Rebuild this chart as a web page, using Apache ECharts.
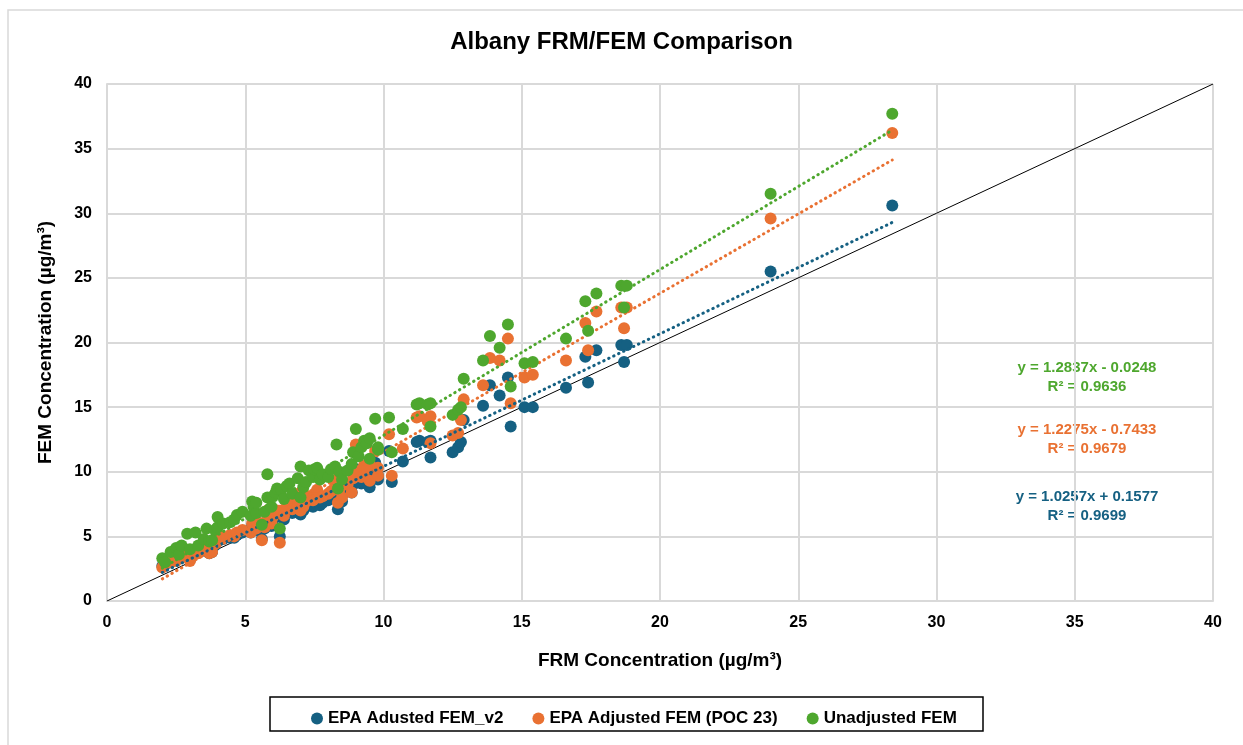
<!DOCTYPE html>
<html>
<head>
<meta charset="utf-8">
<script src="https://cdn.jsdelivr.net/npm/echarts@6/dist/echarts.min.js"></script>
<style>
html,body{margin:0;padding:0;background:#fff;}
#chart{width:1243px;height:745px;}
</style>
</head>
<body>
<div id="chart"></div>
<script>
// FRM concentration (x) shared by all three series
const frm = [2.0,2.1,2.3,2.5,2.6,2.7,2.9,3.0,3.2,3.3,3.5,3.6,3.7,3.8,3.9,4.0,4.0,4.2,4.45,4.6,4.7,4.9,
  5.2,5.25,5.3,5.4,5.4,5.6,5.7,5.8,5.8,5.95,6.0,6.1,6.15,6.25,6.3,6.4,6.5,6.6,6.7,6.9,7.0,7.0,7.1,7.2,
  7.3,7.45,7.5,7.6,7.7,7.8,8.0,8.1,8.25,8.3,8.35,8.4,8.5,8.7,8.85,8.9,9.0,9.1,9.2,9.3,9.4,9.5,9.5,9.7,
  9.8,9.8,10.2,10.3,10.7,11.2,11.3,11.6,11.7,11.7,12.5,12.7,12.8,12.9,13.6,13.85,14.2,14.5,14.6,15.1,
  15.4,16.6,17.3,17.4,17.7,18.6,18.7,18.8,24.0,28.4];
const epaV2 = [2.7,2.8,3.0,3.2,3.3,3.5,3.6,3.2,4.0,3.8,4.1,4.4,3.7,3.8,4.3,4.6,5.0,4.8,4.9,4.9,5.1,5.3,
  5.3,5.8,5.6,5.5,6.0,4.8,5.6,6.6,6.2,5.8,6.2,6.5,6.8,5.0,6.6,6.3,6.9,7.1,6.8,7.3,7.8,6.7,7.0,7.3,
  7.6,7.3,7.9,8.0,7.4,7.6,7.8,8.0,8.3,8.9,7.1,8.1,7.7,8.5,8.4,9.0,10.2,9.5,9.1,9.9,9.6,10.1,8.8,10.7,
  9.4,9.7,11.6,9.2,10.8,12.3,12.4,12.3,11.1,12.4,11.5,11.9,12.3,14.0,15.1,16.7,15.9,17.3,13.5,15.0,
  15.0,16.5,18.9,16.9,19.4,19.8,18.5,19.8,25.5,30.6];
const epaPoc23 = [2.6,2.9,3.0,3.1,3.3,3.4,3.5,3.1,4.0,3.7,4.0,4.5,3.7,3.8,4.4,4.8,5.2,4.9,5.1,5.0,5.3,5.5,
  5.3,6.0,5.8,5.6,6.2,4.7,5.7,7.0,6.4,6.0,6.5,6.8,7.0,4.5,7.0,6.6,7.3,7.6,7.1,7.8,8.4,7.0,7.3,7.7,
  8.1,7.8,8.3,8.6,8.0,8.1,8.3,8.5,8.9,9.4,7.6,8.6,8.0,9.0,8.4,9.5,12.1,9.9,9.6,10.5,10.2,10.6,9.3,11.6,
  9.7,10.3,12.9,9.7,11.8,14.2,14.3,13.9,12.2,14.3,12.8,13.0,14.0,15.6,16.7,18.8,18.6,20.3,15.3,17.3,
  17.5,18.6,21.5,19.4,22.4,22.7,21.1,22.7,29.6,36.2];
const unadjusted = [3.3,3.0,3.8,4.1,3.6,4.3,5.2,4.0,5.3,4.3,4.8,5.6,4.6,4.7,5.5,5.7,6.5,6.0,6.1,6.3,6.65,6.9,
  6.6,7.7,7.3,6.8,7.6,5.9,6.9,9.8,8.0,7.3,8.1,8.4,8.7,5.6,8.6,7.9,8.9,9.1,8.3,9.5,10.4,8.0,8.8,9.2,
  10.1,9.6,10.2,10.3,9.4,9.8,9.6,10.2,10.4,12.1,8.7,10.0,9.4,10.1,10.6,11.5,13.3,11.2,11.9,12.4,12.2,12.6,11.0,14.1,
  11.7,11.9,14.2,11.5,13.3,15.2,15.3,15.2,13.5,15.3,14.4,14.8,15.0,17.2,18.6,20.5,19.6,21.4,16.6,18.4,
  18.5,20.3,23.2,20.9,23.8,24.4,22.7,24.4,31.5,37.7];

const seriesNames = ['EPA Adusted FEM_v2','EPA Adjusted FEM (POC 23)','Unadjusted FEM'];
const colors = ['#156082','#E97132','#4EA72E'];
const slopes = [1.0257, 1.2275, 1.2837];
const intercepts = [0.1577, -0.7433, -0.0248];
const r2 = ['0.9699','0.9679','0.9636'];
const eqText = ['y = 1.0257x + 0.1577','y = 1.2275x - 0.7433','y = 1.2837x - 0.0248'];
const xTicks = [0,5,10,15,20,25,30,35,40];

const chart = echarts.init(document.getElementById('chart'));
const FONT = 'Liberation Sans, Arial, sans-serif';
const ys = [epaV2, epaPoc23, unadjusted];
const xMin = Math.min(...frm), xMax = Math.max(...frm);

const series = [];
// 1:1 line
series.push({type:'line', name:'1:1', data:[[0,0],[40,40]], symbol:'none', silent:true,
  lineStyle:{color:'#000', width:1}, z:1});
// trend lines
for (let i=0;i<3;i++){
  series.push({type:'line', name:'trend'+i, symbol:'none', silent:true, z:5,
    data:[[xMin, slopes[i]*xMin+intercepts[i]],[xMax, slopes[i]*xMax+intercepts[i]]],
    lineStyle:{color:colors[i], width:3, type:[0.5,5], cap:'round'}});
}
// scatter
for (let i=0;i<3;i++){
  series.push({type:'scatter', name:seriesNames[i], data:frm.map((x,k)=>[x, ys[i][k]]),
    symbolSize:12, itemStyle:{color:colors[i], opacity:1}, z:3+i});
}

const eqPos = [[1087,497],[1087,430],[1087,368]];
const graphics = [
  {type:'rect', shape:{x:8,y:10,width:1400,height:900}, style:{fill:'none', stroke:'#d9d9d9', lineWidth:1.5}, silent:true},
  {type:'rect', shape:{x:270,y:697,width:713,height:34}, style:{fill:'none', stroke:'#000', lineWidth:1.5}, silent:true}
];
for (let i=0;i<3;i++){
  graphics.push({type:'text', x:eqPos[i][0], y:eqPos[i][1], style:{text:eqText[i], fill:colors[i], font:'bold 15px '+FONT, align:'center', verticalAlign:'middle'}});
  graphics.push({type:'text', x:eqPos[i][0], y:eqPos[i][1]+19, style:{text:'R² = '+r2[i], fill:colors[i], font:'bold 15px '+FONT, align:'center', verticalAlign:'middle'}});
}

chart.setOption({
  animation:false,
  backgroundColor:'#fff',
  title:{text:'Albany FRM/FEM Comparison', left:'center', top:25,
    textStyle:{fontFamily:FONT, fontSize:24, fontWeight:'bold', color:'#000'}},
  grid:{left:107, right:30, top:84, bottom:144, containLabel:false},
  legend:{data:seriesNames, left:306, top:705, icon:'circle', itemWidth:12, itemHeight:12, itemGap:29,
    textStyle:{fontFamily:FONT, fontSize:17, fontWeight:'bold', color:'#000'}},
  xAxis:{type:'value', min:0, max:40, interval:5,
    name:'FRM Concentration (µg/m³)', nameLocation:'middle', nameGap:50,
    nameTextStyle:{fontFamily:FONT, fontSize:19, fontWeight:'bold', color:'#000'},
    axisLine:{lineStyle:{color:'#d9d9d9', width:2}}, axisTick:{show:false},
    axisLabel:{fontFamily:FONT, fontSize:16, fontWeight:'bold', color:'#000', margin:14,
      formatter:v=>xTicks.includes(v)?String(v):''},
    splitLine:{lineStyle:{color:'#d9d9d9', width:2}}},
  yAxis:{type:'value', min:0, max:40, interval:5,
    name:'FEM Concentration (µg/m³)', nameLocation:'middle', nameGap:52,
    nameTextStyle:{fontFamily:FONT, fontSize:19, fontWeight:'bold', color:'#000'},
    axisLine:{show:true, lineStyle:{color:'#d9d9d9', width:2}}, axisTick:{show:false},
    axisLabel:{fontFamily:FONT, fontSize:16, fontWeight:'bold', color:'#000', margin:15},
    splitLine:{lineStyle:{color:'#d9d9d9', width:2}}},
  graphic:graphics,
  series:series
});
</script>
</body>
</html>
